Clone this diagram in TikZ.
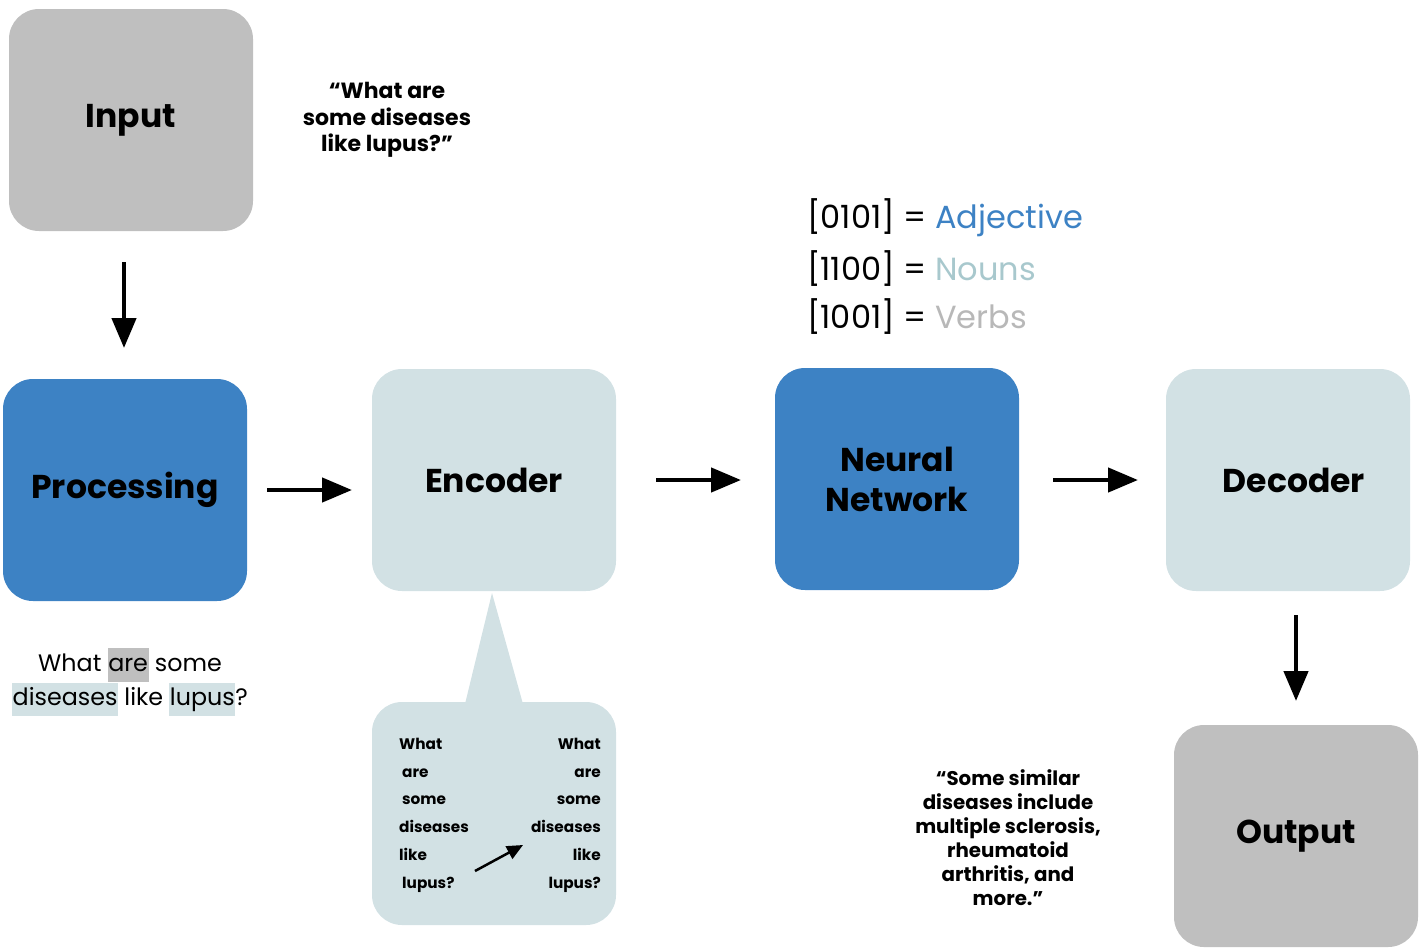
\documentclass[tikz,border=0pt]{standalone}
\usepackage{fontspec}
\setmainfont{Poppins}
\usetikzlibrary{arrows.meta}
\definecolor{cgray}{HTML}{BFBFBF}
\definecolor{cblue}{HTML}{3D82C4}
\definecolor{clight}{HTML}{D2E1E4}
\definecolor{cnoun}{HTML}{A8C8CD}
\definecolor{cverb}{HTML}{B8B8B8}
\newcommand{\hl}[2]{\setlength{\fboxsep}{0.5pt}\colorbox{#1}{\strut #2}}
\tikzset{
  box/.style={rounded corners=30pt, minimum width=244pt, minimum height=222pt, inner sep=0pt, font=\bfseries\fontsize{33}{40}\selectfont, align=center},
  flow/.style={-{Triangle[length=30pt,width=24pt]}, line width=4.5pt},
  word/.style={font=\bfseries\fontsize{15.3}{17}\selectfont, inner sep=0pt},
  quote/.style={font=\bfseries\fontsize{22}{26.5}\selectfont, align=center, inner sep=0pt},
  legend/.style={font=\fontsize{32}{36}\selectfont, anchor=base west, inner sep=0pt}
}
\begin{document}
\begin{tikzpicture}[x=1pt,y=-1pt]
\useasboundingbox (0,0) rectangle (1421,951);
% boxes
\node[box, fill=cgray] (input) at (131,120) {Input};
\node[box, fill=cblue] (proc) at (125,490) {Processing};
\node[box, fill=clight] (enc) at (494,480) {Encoder};
\node[box, fill=cblue] (nn) at (897,479) {Neural\\Network};
\node[box, fill=clight] (dec) at (1288,480) {\hspace*{12pt}Decoder};
\node[box, fill=cgray] (out) at (1296,836) {Output};
% speech bubble
\fill[clight] (492,593) -- (523,704) -- (465,704) -- cycle;
\node[box, fill=clight, minimum height=223pt] (bub) at (494,813.5) {};
% arrows
\coordinate (a1s) at (124,262); \coordinate (a1e) at (124,348);
\draw[flow] (a1s) -- (a1e);
\coordinate (a2s) at (267,490); \coordinate (a2e) at (352,490);
\draw[flow] (a2s) -- (a2e);
\coordinate (a3s) at (656,480); \coordinate (a3e) at (741,480);
\draw[flow] (a3s) -- (a3e);
\coordinate (a4s) at (1053,480); \coordinate (a4e) at (1138,480);
\draw[flow] (a4s) -- (a4e);
\coordinate (a5s) at (1296,615); \coordinate (a5e) at (1296,701);
\draw[flow] (a5s) -- (a5e);
% quote
\node[quote] (q) at (387,120) {“What are\\some diseases\\like lupus?”};
% legend
\node[legend] (l1) at (807,228) {[0101] = \textcolor{cblue}{Adjective}};
\node[legend] (l2) at (807,280) {[1100] = \textcolor{cnoun}{Nouns}};
\node[legend] (l3) at (807,328) {[1001] = \textcolor{cverb}{Verbs}};
% left sentence
\node[font=\fontsize{23.8}{32.5}\selectfont, align=center, inner sep=0pt] (sent) at (130,682)
  {What \hl{cgray}{are} some\\\hl{clight}{diseases} like \hl{clight}{lupus}?};
% bubble words
\node[word, anchor=base west] (w1) at (399,749) {What};
\node[word, anchor=base west] (w2) at (402,777) {are};
\node[word, anchor=base west] (w3) at (402,804) {some};
\node[word, anchor=base west] (w4) at (399,832) {diseases};
\node[word, anchor=base west] (w5) at (399,860) {like};
\node[word, anchor=base west] (w6) at (402,888) {lupus?};
\node[word, anchor=base east] (r1) at (601,749) {What};
\node[word, anchor=base east] (r2) at (601,777) {are};
\node[word, anchor=base east] (r3) at (601,804) {some};
\node[word, anchor=base east] (r4) at (601,832) {diseases};
\node[word, anchor=base east] (r5) at (601,860) {like};
\node[word, anchor=base east] (r6) at (601,888) {lupus?};
\coordinate (bas) at (475,871); \coordinate (bae) at (523,845);
\draw[-{Triangle[length=16pt,width=14pt]}, line width=2.5pt] (bas) -- (bae);
% response
\node[quote, font=\bfseries\fontsize{19.8}{24}\selectfont] (resp) at (1008,838)
  {“Some similar\\diseases include\\multiple sclerosis,\\rheumatoid\\arthritis, and\\more.”};
\end{tikzpicture}
\end{document}
